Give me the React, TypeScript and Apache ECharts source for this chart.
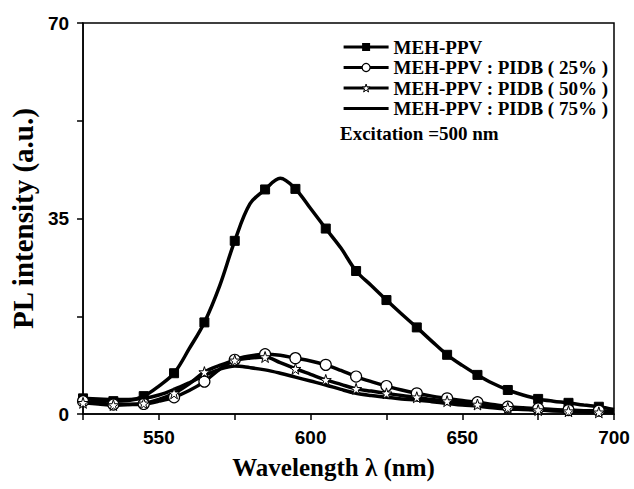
import React, { useEffect, useRef } from "react";
import * as echarts from "echarts";

const wavelengths = [
  525, 530, 535, 540, 545, 550, 555, 560, 565, 570, 575, 580, 585, 590, 595, 600, 605, 610,
  615, 620, 625, 630, 635, 640, 645, 650, 655, 660, 665, 670, 675, 680, 685, 690, 695, 700,
];
const mehPpv = [
  2.8, 2.5, 2.3, 2.4, 3.2, 5.0, 7.3, 11.7, 16.4, 22.9, 31.0, 37.6, 40.2, 42.2, 40.3, 36.8, 33.2, 29.7,
  25.6, 23.0, 20.4, 17.9, 15.5, 13.0, 10.6, 8.7, 7.0, 5.5, 4.3, 3.4, 2.7, 2.3, 2.0, 1.6, 1.3, 0.8,
];
const pidb25 = [
  2.3, 2.0, 1.7, 1.7, 1.8, 2.3, 3.0, 4.2, 5.8, 8.0, 9.7, 10.4, 10.7, 10.5, 10.0, 9.5, 8.8, 7.8,
  6.7, 5.8, 5.0, 4.3, 3.7, 3.2, 2.8, 2.4, 2.1, 1.7, 1.3, 1.1, 1.0, 0.8, 0.7, 0.6, 0.6, 0.4,
];
const pidb50 = [
  2.0, 1.8, 1.6, 1.7, 1.9, 2.6, 3.7, 5.4, 7.5, 8.7, 9.6, 10.0, 10.2, 9.2, 8.1, 7.1, 6.1, 5.3,
  4.5, 4.1, 3.7, 3.3, 3.0, 2.6, 2.3, 2.0, 1.7, 1.4, 1.1, 0.9, 0.7, 0.6, 0.5, 0.4, 0.3, 0.3,
];
const pidb75 = [
  2.8, 2.7, 2.6, 2.6, 2.8, 3.4, 4.4, 5.6, 6.9, 8.0, 8.6, 8.3, 7.9, 7.3, 6.6, 5.9, 5.2, 4.4,
  3.7, 3.3, 3.0, 2.7, 2.5, 2.2, 1.9, 1.6, 1.4, 1.1, 0.9, 0.8, 0.7, 0.6, 0.5, 0.4, 0.3, 0.3,
];
const seriesNames = [
  "MEH-PPV",
  "MEH-PPV : PIDB ( 25% )",
  "MEH-PPV : PIDB ( 50% )",
  "MEH-PPV : PIDB ( 75% )",
];
const xLabelTicks = [550, 600, 650, 700];
const yLabelTicks = [0, 35, 70];

const STAR =
  "path://M50,0 L61.2,34.5 L97.6,34.5 L68.2,55.9 L79.4,90.5 L50,69.1 L20.6,90.5 L31.8,55.9 L2.4,34.5 L38.8,34.5 Z";
const PLAIN_LINE_ICON = "path://M0,0 L45,0 L45,3.2 L0,3.2 Z";

function buildData(values: number[], withMarkers: boolean) {
  return wavelengths.map((w, i) => {
    const item: any = { value: [w, values[i]] };
    if (!withMarkers || (w - 525) % 10 !== 0) item.symbol = "none";
    return item;
  });
}

export default function App() {
  const ref = useRef<HTMLDivElement>(null);
  useEffect(() => {
    document.body.style.margin = "0";
    const chart = echarts.init(ref.current!, null, { renderer: "svg" });
    const serif = "'Liberation Serif', 'Times New Roman', serif";
    const sans = "'Liberation Sans', Arial, sans-serif";
    const lineW = 3.5;
    chart.setOption({
      animation: false,
      backgroundColor: "#ffffff",
      grid: {
        left: 83,
        top: 23,
        width: 531,
        height: 391,
        show: true,
        borderColor: "#000",
        borderWidth: 1.5,
        backgroundColor: "transparent",
      },
      legend: {
        orient: "vertical",
        left: 337,
        top: 31,
        itemWidth: 45,
        itemHeight: 10,
        itemGap: -1.5,
        selectedMode: false,
        lineStyle: { width: 3.2, color: "#000" },
        textStyle: {
          fontFamily: serif,
          fontWeight: "bold",
          fontSize: 19,
          color: "#000",
          lineHeight: 22,
        },
        data: [
          { name: seriesNames[0] },
          { name: seriesNames[1], itemStyle: { color: "#fff", borderColor: "#000", borderWidth: 1.2 } },
          { name: seriesNames[2], itemStyle: { color: "#fff", borderColor: "#000", borderWidth: 1 } },
          { name: seriesNames[3], icon: PLAIN_LINE_ICON, itemStyle: { color: "#000", borderWidth: 0 } },
        ],
      },
      graphic: [
        {
          type: "text",
          left: 340,
          top: 124,
          style: {
            text: "Excitation =500 nm",
            font: `bold 19px ${serif}`,
            fill: "#000",
          },
        },
      ],
      xAxis: {
        type: "value",
        min: 525,
        max: 700,
        interval: 25,
        name: "Wavelength λ (nm)",
        nameLocation: "middle",
        nameGap: 41,
        nameTextStyle: {
          fontFamily: serif,
          fontWeight: "bold",
          fontSize: 25,
          color: "#000",
          padding: [0, 30, 0, 0],
        },
        splitLine: { show: false },
        axisLine: { lineStyle: { color: "#000", width: 1.5 } },
        axisTick: { inside: false, length: 6, lineStyle: { color: "#000", width: 1.5 } },
        axisLabel: {
          margin: 14,
          fontFamily: sans,
          fontWeight: "bold",
          fontSize: 19,
          color: "#000",
          formatter: (v: number) => (xLabelTicks.includes(v) ? String(v) : ""),
        },
      },
      yAxis: {
        type: "value",
        min: 0,
        max: 70,
        interval: 17.5,
        name: "PL intensity (a.u.)",
        nameLocation: "middle",
        nameGap: 24,
        nameTextStyle: { fontFamily: serif, fontWeight: "bold", fontSize: 29, color: "#000" },
        splitLine: { show: false },
        axisLine: { lineStyle: { color: "#000", width: 1.5 } },
        axisTick: { inside: false, length: 6, lineStyle: { color: "#000", width: 1.5 } },
        axisLabel: {
          margin: 14,
          fontFamily: sans,
          fontWeight: "bold",
          fontSize: 19,
          color: "#000",
          formatter: (v: number) => (yLabelTicks.includes(v) ? String(v) : ""),
        },
      },
      series: [
        {
          name: seriesNames[0],
          type: "line",
          smooth: 0.35,
          symbol: "rect",
          symbolSize: 9,
          lineStyle: { color: "#000", width: lineW },
          itemStyle: { color: "#000", borderColor: "#000" },
          data: buildData(mehPpv, true),
        },
        {
          name: seriesNames[1],
          type: "line",
          smooth: 0.35,
          symbol: "circle",
          symbolSize: 11,
          lineStyle: { color: "#000", width: lineW },
          itemStyle: { color: "#fff", borderColor: "#000", borderWidth: 1.2 },
          data: buildData(pidb25, true),
        },
        {
          name: seriesNames[2],
          type: "line",
          smooth: 0.35,
          symbol: STAR,
          symbolSize: 11,
          lineStyle: { color: "#000", width: lineW },
          itemStyle: { color: "#fff", borderColor: "#000", borderWidth: 1 },
          data: buildData(pidb50, true),
        },
        {
          name: seriesNames[3],
          type: "line",
          smooth: 0.35,
          symbol: "none",
          lineStyle: { color: "#000", width: lineW },
          itemStyle: { color: "#000" },
          data: buildData(pidb75, false),
        },
      ],
    });
    return () => chart.dispose();
  }, []);
  return <div ref={ref} style={{ width: 634, height: 489 }} />;
}
